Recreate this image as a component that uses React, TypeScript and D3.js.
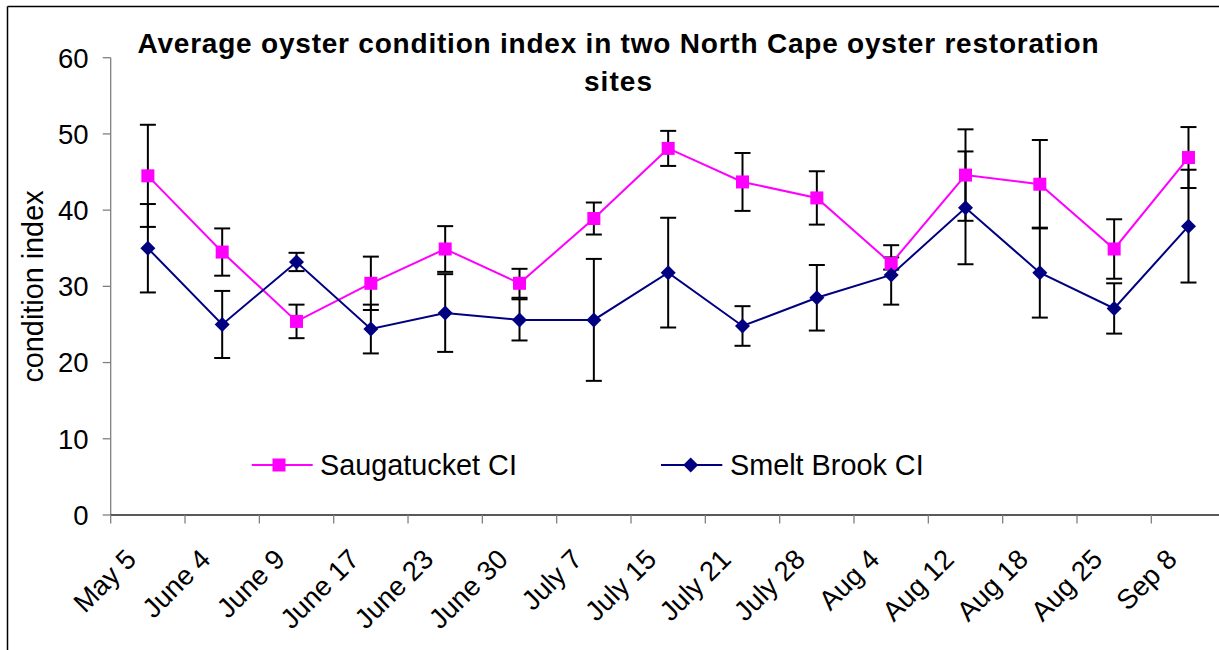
import React from "react";
import * as d3 from "d3";

const categories = ["May 5", "June 4", "June 9", "June 17", "June 23", "June 30", "July 7", "July 15", "July 21", "July 28", "Aug 4", "Aug 12", "Aug 18", "Aug 25", "Sep 8"];
const saugValues = [44.5, 34.5, 25.4, 30.4, 34.9, 30.4, 38.9, 48.1, 43.7, 41.6, 33.0, 44.6, 43.4, 34.9, 46.9];
const saugErrors = [6.7, 3.1, 2.2, 3.5, 3.0, 1.9, 2.1, 2.3, 3.8, 3.5, 0.8, 6.0, 5.8, 3.9, 4.0];
const smeltValues = [35.0, 25.0, 33.2, 24.4, 26.5, 25.6, 25.6, 31.8, 24.8, 28.5, 31.5, 40.3, 31.8, 27.1, 37.9];
const smeltErrors = [5.8, 4.4, 1.2, 3.2, 5.1, 2.7, 8.0, 7.2, 2.6, 4.3, 3.9, 7.4, 5.9, 3.3, 7.4];
const yTicks = [0, 10, 20, 30, 40, 50, 60];
const titleLines = ["Average oyster condition index in two North Cape oyster restoration", "sites"];
const yLabel = "condition index";
const seriesNames = ["Saugatucket CI", "Smelt Brook CI"];

const W = 1219;
const H = 650;
const FONT = "'Liberation Sans', Arial, sans-serif";
const MAGENTA = "#FF00FF";
const NAVY = "#000080";

export default function App() {
  const left = 110.7;
  const bandW = 74.33;
  const x = d3.scaleBand<string>().domain(categories).range([left, left + bandW * categories.length]).padding(0);
  const y = d3.scaleLinear().domain([0, 60]).range([515, 57.7]);
  const cx = (c: string) => (x(c) as number) + x.bandwidth() / 2;

  const series = [
    { name: seriesNames[0], values: saugValues, errors: saugErrors, color: MAGENTA, marker: "square" },
    { name: seriesNames[1], values: smeltValues, errors: smeltErrors, color: NAVY, marker: "diamond" },
  ];

  const line = d3.line<number>().x((_, i) => cx(categories[i])).y((v) => y(v));

  const marker = (kind: string, px: number, py: number, color: string, key: string) =>
    kind === "square" ? (
      <rect key={key} x={px - 6.5} y={py - 6.5} width={13} height={13} fill={color} />
    ) : (
      <path key={key} d={`M${px},${py - 7.5}L${px + 7.5},${py}L${px},${py + 7.5}L${px - 7.5},${py}Z`} fill={color} />
    );

  const axisY = y(0);
  const titleWidths = [961, 68];

  return (
    <svg width={W} height={H} style={{ position: "absolute", left: 0, top: 0, background: "#fff" }} fontFamily={FONT}>
      <rect x={0} y={0} width={W} height={H} fill="#fff" />
      {/* chart border */}
      <line x1={7.5} y1={6.5} x2={W} y2={6.5} stroke="#000" strokeWidth={1.5} />
      <line x1={7.5} y1={6.5} x2={7.5} y2={H} stroke="#000" strokeWidth={1.5} />

      {/* title */}
      {titleLines.map((t, i) => (
        <text
          key={t}
          x={618}
          y={53 + i * 37.5}
          textAnchor="middle"
          fontSize={28}
          fontWeight="bold"
          fill="#000"
          textLength={titleWidths[i]}
          lengthAdjust="spacing"
        >
          {t}
        </text>
      ))}

      {/* y axis */}
      <line x1={left} y1={y(60)} x2={left} y2={axisY} stroke="#808080" strokeWidth={1.3} />
      {yTicks.map((t) => (
        <g key={t}>
          <line x1={left - 8} x2={left} y1={y(t)} y2={y(t)} stroke="#808080" strokeWidth={1.3} />
          <text x={88.5} y={y(t)} dy="0.36em" textAnchor="end" fontSize={27.5} fill="#000">
            {t}
          </text>
        </g>
      ))}
      <text transform={`translate(42.7, 286.5) rotate(-90)`} textAnchor="middle" fontSize={28.8} fill="#000">
        {yLabel}
      </text>

      {/* x axis */}
      <line x1={left} y1={axisY} x2={W} y2={axisY} stroke="#222" strokeWidth={1.3} />
      {categories.map((c) => (
        <line key={"t" + c} x1={x(c) as number} x2={x(c) as number} y1={axisY} y2={axisY + 8.5} stroke="#808080" strokeWidth={1.3} />
      ))}
      {categories.map((c) => (
        <text key={"l" + c} transform={`translate(${cx(c) - 10}, 561) rotate(-45)`} textAnchor="end" fontSize={27.5} fill="#000">
          {c}
        </text>
      ))}

      {/* error bars */}
      {series.map((s) =>
        s.values.map((v, i) => {
          const px = cx(categories[i]);
          const hi = y(v + s.errors[i]);
          const lo = y(v - s.errors[i]);
          return (
            <g key={s.name + "e" + i} stroke="#000" strokeWidth={2}>
              <line x1={px} x2={px} y1={hi} y2={lo} />
              <line x1={px - 8} x2={px + 8} y1={hi} y2={hi} />
              <line x1={px - 8} x2={px + 8} y1={lo} y2={lo} />
            </g>
          );
        })
      )}

      {/* lines & markers */}
      {series.map((s) => (
        <g key={s.name}>
          <path d={line(s.values) as string} fill="none" stroke={s.color} strokeWidth={2} />
          {s.values.map((v, i) => marker(s.marker, cx(categories[i]), y(v), s.color, s.name + "m" + i))}
        </g>
      ))}

      {/* legend */}
      {[
        { s: series[0], x0: 251.7, x1: 312.7, mx: 279, tx: 320 },
        { s: series[1], x0: 661, x1: 722.3, mx: 690.7, tx: 730 },
      ].map(({ s, x0, x1, mx, tx }) => (
        <g key={"lg" + s.name}>
          <line x1={x0} x2={x1} y1={465} y2={465} stroke={s.color} strokeWidth={2} />
          {marker(s.marker, mx, 465, s.color, "lgm" + s.name)}
          <text x={tx} y={474.5} fontSize={28.8} fill="#000">
            {s.name}
          </text>
        </g>
      ))}
    </svg>
  );
}
